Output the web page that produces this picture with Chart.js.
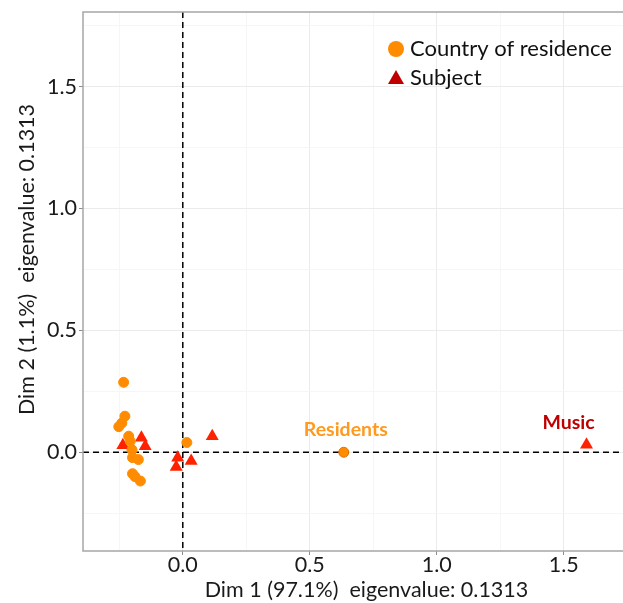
<!DOCTYPE html>
<html>
<head>
<meta charset="utf-8">
<script src="https://cdn.jsdelivr.net/npm/chart.js@4"></script>
<style>
  html, body { margin: 0; padding: 0; background: #fff; overflow: hidden; }
  #wrap { width: 623px; height: 603px; overflow: hidden; position: relative; }
  #ca { position: absolute; left: 0; top: 0; }
</style>
</head>
<body>
<div id="wrap"><canvas id="ca" width="660" height="603"></canvas></div>
<script>
var ctx = document.getElementById('ca').getContext('2d');

// Country of residence (row points)
var countryX = [-0.233, -0.228, -0.240, -0.252, -0.213, -0.207, -0.200, -0.198, -0.175, -0.198, -0.188, -0.167, 0.016, 0.634];
var countryY = [0.287, 0.148, 0.120, 0.105, 0.066, 0.045, 0.010, -0.022, -0.030, -0.088, -0.100, -0.118, 0.040, 0.000];
var countryNames = ['', '', '', '', '', '', '', '', '', '', '', '', '', 'Residents'];

// Subject (column points)
var subjectX = [-0.236, -0.163, -0.148, -0.020, -0.026, 0.033, 0.116, 1.590];
var subjectY = [0.029, 0.060, 0.025, -0.022, -0.060, -0.036, 0.066, 0.031];
var subjectNames = ['', '', '', '', '', '', '', 'Music'];

var xTicks = [-0.25, 0, 0.25, 0.5, 0.75, 1, 1.25, 1.5, 1.75];
var yTicks = [-0.25, 0, 0.25, 0.5, 0.75, 1, 1.25, 1.5, 1.75];

var xTitle = 'Dim 1 (97.1%)  eigenvalue: 0.1313';
var yTitle = 'Dim 2 (1.1%)  eigenvalue: 0.1313';

var FONT = 'Lato, "Open Sans", sans-serif';

function toPoints(xs, ys) {
    var out = [];
    for (var i = 0; i < xs.length; i++) out.push({x: xs[i], y: ys[i]});
    return out;
}

function isMajor(v) {
    return Math.abs(v * 2 - Math.round(v * 2)) < 1e-6;
}

var refLines = {
    id: 'refLines',
    beforeDatasetsDraw: function(chart) {
        var c = chart.ctx, a = chart.chartArea;
        var x0 = chart.scales.x.getPixelForValue(0);
        var y0 = chart.scales.y.getPixelForValue(0);
        c.save();
        c.strokeStyle = '#000';
        c.lineWidth = 1.5;
        c.setLineDash([6, 4]);
        c.beginPath();
        c.moveTo(x0, a.top); c.lineTo(x0, a.bottom);
        c.moveTo(a.left, y0); c.lineTo(a.right, y0);
        c.stroke();
        c.restore();
    }
};

var extras = {
    id: 'extras',
    afterDraw: function(chart) {
        var c = chart.ctx, a = chart.chartArea;
        c.save();
        // point labels
        c.font = 'bold 19.5px ' + FONT;
        c.textAlign = 'center';
        c.textBaseline = 'middle';
        var m0 = chart.getDatasetMeta(0), m1 = chart.getDatasetMeta(1);
        countryNames.forEach(function(n, i) {
            if (!n) return;
            var p = m0.data[i];
            c.fillStyle = '#FF9A1E';
            c.fillText(n, p.x + 2, p.y - 23);
        });
        subjectNames.forEach(function(n, i) {
            if (!n) return;
            var p = m1.data[i];
            c.fillStyle = '#C00000';
            c.fillText(n, p.x - 18, p.y - 22);
        });

        // y axis title (sits a bit above the panel centre in the original)
        c.save();
        c.font = '21.5px ' + FONT;
        c.fillStyle = '#1A1A1A';
        c.translate(27, (a.top + a.bottom) / 2 - 22);
        c.rotate(-Math.PI / 2);
        c.fillText(yTitle, 0, 0);
        c.restore();

        // legend
        var lx = a.left + 313, ly = a.top + 37;
        c.font = '22px ' + FONT;
        c.textAlign = 'left';
        c.textBaseline = 'middle';
        c.fillStyle = '#FF8C00';
        c.beginPath();
        c.arc(lx, ly, 8, 0, Math.PI * 2);
        c.fill();
        c.fillStyle = '#111';
        c.fillText(chart.data.datasets[0].label, lx + 14, ly);
        var ty = ly + 29;
        c.fillStyle = '#C00000';
        c.beginPath();
        c.moveTo(lx, ty - 8);
        c.lineTo(lx + 8, ty + 6);
        c.lineTo(lx - 8, ty + 6);
        c.closePath();
        c.fill();
        c.fillStyle = '#111';
        c.fillText(chart.data.datasets[1].label, lx + 14, ty);

        // panel border (right side is cut off by the wrapper)
        c.strokeStyle = '#A6A6A6';
        c.lineWidth = 1.5;
        c.strokeRect(a.left, a.top, a.right - a.left, a.bottom - a.top);
        c.restore();
    }
};

var chart = new Chart(ctx, {
    type: 'scatter',
    data: {
        datasets: [{
            label: 'Country of residence',
            data: toPoints(countryX, countryY),
            pointStyle: 'circle',
            pointRadius: 5,
            backgroundColor: '#FF8C00',
            borderColor: function(c) { return countryNames[c.dataIndex] ? '#E07000' : '#FF8C00'; },
            borderWidth: 1
        }, {
            label: 'Subject',
            data: toPoints(subjectX, subjectY),
            pointStyle: 'triangle',
            pointRadius: 7.5,
            backgroundColor: '#FF2200',
            borderColor: '#FF2200',
            borderWidth: 0
        }]
    },
    options: {
        responsive: false,
        animation: false,
        layout: { padding: { top: 12, right: 10, bottom: 0, left: 0 } },
        plugins: {
            legend: { display: false },
            tooltip: { enabled: false }
        },
        scales: {
            x: {
                type: 'linear',
                min: -0.393,
                max: 1.84,
                afterBuildTicks: function(s) { s.ticks = xTicks.map(function(v) { return {value: v}; }); },
                afterFit: function(s) { s.height = 52; s.paddingLeft = 0; s.paddingRight = 0; },
                border: { display: false },
                grid: {
                    color: function(c) { return isMajor(c.tick.value) ? '#EBEBEB' : '#F6F6F6'; },
                    tickColor: function(c) { return isMajor(c.tick.value) ? '#8C8C8C' : 'rgba(0,0,0,0)'; },
                    tickLength: 4,
                    lineWidth: 1
                },
                ticks: {
                    padding: -3,
                    color: '#1A1A1A',
                    font: { family: FONT, size: 21.5 },
                    maxRotation: 0,
                    callback: function(v) { return isMajor(v) ? v.toFixed(1) : ''; }
                },
                title: {
                    display: true,
                    text: xTitle,
                    color: '#1A1A1A',
                    font: { family: FONT, size: 21.5 },
                    padding: { top: 0, bottom: 0 }
                }
            },
            y: {
                type: 'linear',
                min: -0.405,
                max: 1.806,
                afterBuildTicks: function(s) { s.ticks = yTicks.map(function(v) { return {value: v}; }); },
                afterFit: function(s) { s.width = 83; s.paddingTop = 0; s.paddingBottom = 0; },
                border: { display: false },
                grid: {
                    color: function(c) { return isMajor(c.tick.value) ? '#EBEBEB' : '#F6F6F6'; },
                    tickColor: function(c) { return isMajor(c.tick.value) ? '#8C8C8C' : 'rgba(0,0,0,0)'; },
                    tickLength: 4,
                    lineWidth: 1
                },
                ticks: {
                    padding: 2,
                    color: '#1A1A1A',
                    font: { family: FONT, size: 21.5 },
                    callback: function(v) { return isMajor(v) ? v.toFixed(1) : ''; }
                },
                title: { display: false }
            }
        }
    },
    plugins: [refLines, extras]
});
</script>
</body>
</html>
